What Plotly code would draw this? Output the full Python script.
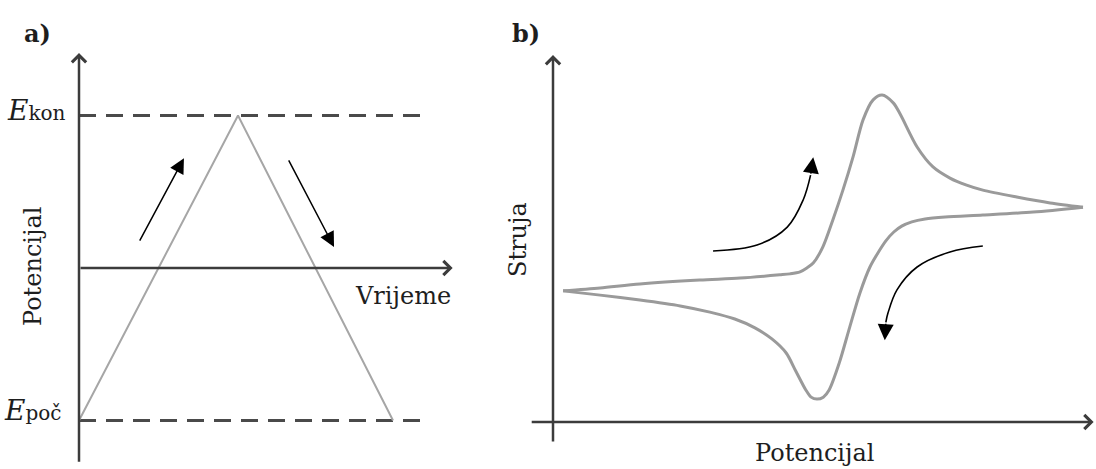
import plotly.graph_objects as go

W, H = 1096, 469

# ---------------- Panel a: triangular potential waveform ----------------
time_pts = [0.0, 10.0, 19.75]          # time (arb. units)
pot_pts = [-1.0, 1.0, -1.0]            # potential (E_poc -> E_kon -> E_poc)
E_kon = 1.0
E_poc = -1.0
dash_end = 21.76                       # time where dashed guides end
a_time_axis = [0.0, 23.5]              # horizontal axis (potential = 0)
a_pot_axis = [-1.28, 1.41]             # vertical axis (time = 0)
a_up_arrow = [[3.77, 0.17], [6.60, 0.72]]      # tail, tip
a_down_arrow = [[13.14, 0.715], [16.04, 0.138]]

# ---------------- Panel b: cyclic voltammogram ----------------
fwd_E = [0.19, 0.89, 1.64, 2.77, 3.53, 4.28, 4.47, 4.66, 4.79, 4.91, 5.09, 5.28,
         5.47, 5.66, 5.85, 6.04, 6.21, 6.42, 6.55, 6.87, 7.17, 7.49, 7.79, 8.11,
         8.75, 9.38, 10.0]
fwd_I = [4.01, 4.10, 4.22, 4.34, 4.40, 4.50, 4.53, 4.59, 4.71, 4.86, 5.35, 6.18,
         7.09, 8.10, 9.24, 9.85, 10.0, 9.76, 9.42, 8.41, 7.80, 7.46, 7.25, 7.09,
         6.88, 6.70, 6.57]
rev_E = [10.0, 9.06, 8.11, 7.40, 7.02, 6.77, 6.58, 6.43, 6.28, 6.13, 5.98, 5.79,
         5.60, 5.40, 5.21, 5.10, 4.98, 4.87, 4.77, 4.58, 4.40, 4.13, 3.81, 3.43,
         2.96, 2.40, 1.64, 0.89, 0.19]
rev_I = [6.57, 6.42, 6.33, 6.27, 6.21, 6.12, 5.99, 5.81, 5.54, 5.17, 4.74, 3.94,
         2.91, 1.80, 0.98, 0.76, 0.70, 0.76, 0.98, 1.56, 2.11, 2.54, 2.88, 3.15,
         3.36, 3.55, 3.73, 3.88, 4.01]
b_E_axis = [-0.43, 10.2]               # horizontal axis (current = 0)
b_I_axis = [-0.64, 11.22]              # vertical axis (potential = 0)
b_arrow1_E = [3.02, 3.85, 4.42, 4.72, 4.86]
b_arrow1_I = [5.23, 5.41, 5.96, 6.79, 7.55]
b_arrow1_tip = [4.91, 8.10]
b_arrow2_E = [8.11, 7.49, 6.87, 6.49, 6.32, 6.28]
b_arrow2_I = [5.38, 5.20, 4.74, 4.04, 3.33, 3.05]
b_arrow2_tip = [6.26, 2.50]

# ---------------- Labels ----------------
panel_labels = ["a)", "b)"]
a_ylabel = "Potencijal"
a_xlabel = "Vrijeme"
b_ylabel = "Struja"
b_xlabel = "Potencijal"

FONT = "DejaVu Serif"
TXT = "#1e1e1e"
AXC = "#3c3c3c"

fig = go.Figure()

# Panel a traces
for lvl in (E_kon, E_poc):
    fig.add_trace(go.Scatter(x=[0, dash_end], y=[lvl, lvl], mode="lines",
                             line=dict(color="#4a4a4a", width=3, dash="17px,10px"),
                             xaxis="x", yaxis="y", hoverinfo="skip"))
fig.add_trace(go.Scatter(x=time_pts, y=pot_pts, mode="lines",
                         line=dict(color="#a6a6a6", width=2),
                         xaxis="x", yaxis="y", hoverinfo="skip"))

# Panel b traces
fig.add_trace(go.Scatter(x=fwd_E, y=fwd_I, mode="lines",
                         line=dict(color="#9a9a9a", width=3, shape="spline", smoothing=0.8),
                         xaxis="x2", yaxis="y2", hoverinfo="skip"))
fig.add_trace(go.Scatter(x=rev_E, y=rev_I, mode="lines",
                         line=dict(color="#9a9a9a", width=3, shape="spline", smoothing=0.8),
                         xaxis="x2", yaxis="y2", hoverinfo="skip"))
fig.add_trace(go.Scatter(x=b_arrow1_E, y=b_arrow1_I, mode="lines",
                         line=dict(color="black", width=1.6, shape="spline"),
                         xaxis="x2", yaxis="y2", hoverinfo="skip"))
fig.add_trace(go.Scatter(x=b_arrow2_E, y=b_arrow2_I, mode="lines",
                         line=dict(color="black", width=1.6, shape="spline"),
                         xaxis="x2", yaxis="y2", hoverinfo="skip"))

ann = []


def arrow(xr, yr, tail, tip, color, width, head, size):
    ann.append(dict(xref=xr, yref=yr, axref=xr, ayref=yr,
                    x=tip[0], y=tip[1], ax=tail[0], ay=tail[1], text="",
                    showarrow=True, arrowhead=head, arrowsize=size,
                    arrowwidth=width, arrowcolor=color, standoff=0, startstandoff=0))


# axes with arrows (panel a)
arrow("x", "y", [0, a_pot_axis[0]], [0, a_pot_axis[1]], AXC, 2.5, 4, 1.1)
arrow("x", "y", [a_time_axis[0], 0], [a_time_axis[1], 0], AXC, 2.5, 4, 1.1)
# direction arrows (panel a)
arrow("x", "y", a_up_arrow[0], a_up_arrow[1], "black", 1.5, 2, 2.0)
arrow("x", "y", a_down_arrow[0], a_down_arrow[1], "black", 1.5, 2, 2.0)
# axes with arrows (panel b)
arrow("x2", "y2", [0, b_I_axis[0]], [0, b_I_axis[1]], AXC, 2.5, 4, 1.1)
arrow("x2", "y2", [b_E_axis[0], 0], [b_E_axis[1], 0], AXC, 2.5, 4, 1.1)
# arrowheads of curved arrows (panel b)
arrow("x2", "y2", [b_arrow1_E[-1], b_arrow1_I[-1]], b_arrow1_tip, "black", 1.6, 2, 2.0)
arrow("x2", "y2", [b_arrow2_E[-1], b_arrow2_I[-1]], b_arrow2_tip, "black", 1.6, 2, 2.0)


def txt(text, px, py, size, angle=0, xanchor="center", bold=False):
    ann.append(dict(xref="paper", yref="paper", x=px / W, y=1 - py / H,
                    text=("<b>%s</b>" % text) if bold else text,
                    showarrow=False, textangle=angle, xanchor=xanchor, yanchor="middle",
                    font=dict(family=FONT, size=size, color=TXT)))


txt(panel_labels[0], 37, 33, 24, bold=True)
txt(panel_labels[1], 526, 33, 24, bold=True)
txt(a_ylabel, 33, 267, 24, angle=-90)
txt(a_xlabel, 403, 296, 24)
txt("<i>E</i><span style='font-size:20px'>kon</span>", 68, 110, 28, xanchor="right")
txt("<i>E</i><span style='font-size:20px'>poč</span>", 64, 410, 28, xanchor="right")
txt(b_ylabel, 518, 240, 24, angle=-90)
txt(b_xlabel, 814, 453, 24)

ax_common = dict(visible=False, fixedrange=True)
fig.update_layout(
    width=W, height=H,
    margin=dict(l=0, r=0, t=0, b=0),
    paper_bgcolor="white", plot_bgcolor="white",
    showlegend=False,
    xaxis=dict(domain=[0, 460 / W], range=[-79 / 15.9, (460 - 79) / 15.9], **ax_common),
    yaxis=dict(domain=[0, 1], range=[-(469 - 268) / 152.5, 268 / 152.5], **ax_common),
    xaxis2=dict(domain=[500 / W, 1], range=[(500 - 553) / 53, (1096 - 553) / 53],
                anchor="y2", **ax_common),
    yaxis2=dict(domain=[0, 1], range=[-(469 - 422) / 32.7, 422 / 32.7],
                anchor="x2", **ax_common),
    annotations=ann,
)

fig.write_html("out.html", config={"displayModeBar": False},
               post_script="document.body.style.margin='0';document.body.style.overflow='hidden';")
